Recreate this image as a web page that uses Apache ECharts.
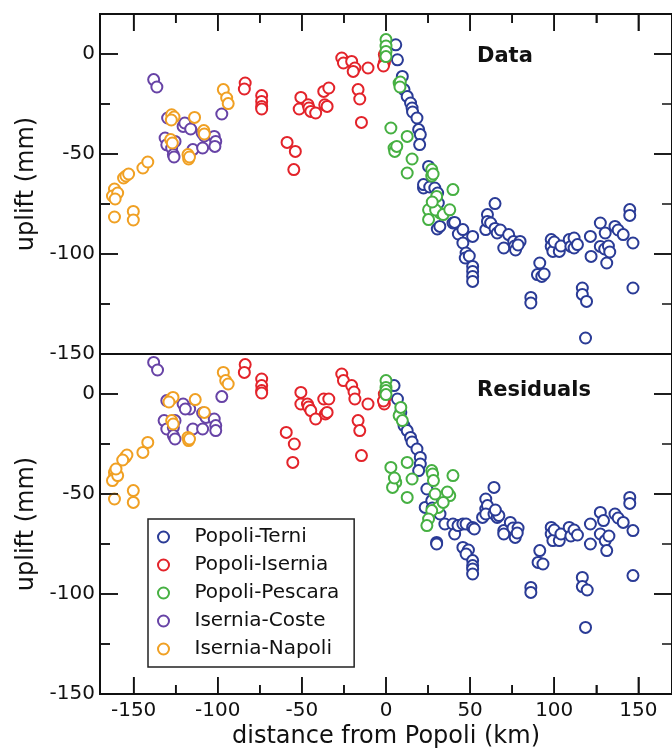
<!DOCTYPE html>
<html>
<head>
<meta charset="utf-8">
<script src="https://cdn.jsdelivr.net/npm/echarts@6/dist/echarts.min.js"></script>
<style>
  html, body { margin: 0; padding: 0; background: #fff; }
  #chart { width: 672px; height: 751px; }
</style>
</head>
<body>
<div id="chart"></div>
<script>
// tick positions
let xMajor = [-150, -100, -50, 0, 50, 100, 150];
let xMinor = [-125, -75, -25, 25, 75, 125];
let yMajor = [0, -50, -100, -150];
let yMinor = [-25, -75, -125];

let seriesNames = ["Popoli-Terni", "Popoli-Isernia", "Popoli-Pescara", "Isernia-Coste", "Isernia-Napoli"];

let terniData = [
  [5.8, 4.6], [6.8, -2.9], [9.7, -11.2], [10.7, -17.8], [12.6, -21.2], [14.6, -24.5], [15.5, -27], [15.8, -29],
  [18.4, -32], [19.4, -37.8], [20.4, -40.3], [20, -45.3], [25.3, -56.2], [22.3, -67], [22.3, -65.3], [26, -66.5],
  [29, -67], [30.7, -69.5], [31.1, -74.5], [30.5, -87.5], [32, -86.2], [39.8, -84.5], [40.8, -84.2], [43, -90],
  [45.7, -87.8], [45.7, -94.5], [51.5, -91.2], [47.6, -99.5], [47.1, -102], [49.5, -101], [51.5, -106.2],
  [51.5, -108.7], [51.5, -111.2], [51.5, -113.7], [59.3, -87.8], [60.3, -80.3], [60.3, -83.7], [64.8, -74.8],
  [62.2, -84.5], [64.8, -87.2], [66.1, -89.5], [68, -88], [70, -97], [72.9, -90.3], [75.9, -93.7], [76.5, -96],
  [77, -98], [79.7, -93.7], [78.5, -95.5], [86.1, -121.7], [86.1, -124.5], [91.4, -104.5], [90, -110.3],
  [92.6, -111.2], [94, -110], [98.2, -92.8], [98.2, -96.2], [99.2, -98.7], [100, -94], [103, -98.7], [104, -96],
  [108.9, -92.8], [109.9, -96.2], [111.8, -92], [111.8, -97], [113.8, -95.3], [116.7, -117], [116.7, -120.2],
  [119.2, -123.7], [118.6, -142], [121.5, -91.2], [121.9, -101.2], [127.4, -84.5], [130.3, -89.5], [127.4, -96.2],
  [130, -97.5], [131.2, -104.5], [132.2, -96], [133, -99], [136.1, -86.2], [138, -88], [141, -90.3],
  [144.9, -77.8], [144.9, -80.7], [146.8, -94.5], [146.8, -117]
];
let iserniaData = [
  [-83.7, -14.5], [-84.2, -17.5], [-73.9, -20.8], [-73.9, -23.7], [-73.9, -26.2], [-73.9, -27.5], [-58.8, -44.2],
  [-53.9, -48.7], [-54.8, -57.8], [-50.6, -21.7], [-51.6, -27.5], [-46.3, -25.4], [-45.8, -27], [-44.7, -28.7],
  [-41.8, -29.5], [-36.4, -25.4], [-37, -18.7], [-34, -17], [-35, -26.2], [-26.3, -2], [-25.3, -4.5],
  [-20.4, -3.7], [-18.5, -7], [-19.5, -8.7], [-10.7, -7], [-16.6, -17.8], [-15.6, -22.5], [-14.6, -34.2],
  [-1, -0.3], [-1, -4.5], [-0.5, -2.5], [-1.5, -6]
];
let pescaraData = [
  [0, 7.2], [0, 4], [0, 1.3], [0, -1.3], [7.8, -14.5], [8.5, -14], [8.3, -16.5], [2.9, -37], [4.8, -47],
  [5.2, -48.7], [6.4, -46.2], [12.6, -41.2], [15.5, -52.5], [12.6, -59.5], [27.2, -57.8], [27.2, -61], [28, -60],
  [25.3, -77.9], [25.3, -82.8], [30.1, -71.2], [32.1, -79.5], [29.5, -78], [34, -80.3], [37.9, -77.9],
  [39.8, -67.8], [27.5, -74]
];
let costeData = [
  [-138.1, -12.8], [-136.2, -16.5], [-129.8, -32], [-131.3, -42], [-130.3, -45.4], [-127.4, -47], [-126.4, -50.3],
  [-126, -51.5], [-125.4, -43.7], [-120.6, -36.2], [-119.6, -34.5], [-116.1, -37.5], [-114.8, -47.8], [-109, -47],
  [-109.3, -39.5], [-108, -41], [-102.1, -41.2], [-101.2, -43.7], [-101.7, -46.2], [-97.6, -30]
];
let napoliData = [
  [-161.4, -67.5], [-162.6, -71], [-159.5, -69.5], [-161, -72.5], [-161.4, -81.5], [-156, -62], [-154.6, -61],
  [-153, -60], [-150.2, -78.7], [-150.2, -83], [-144.5, -57], [-141.6, -54], [-127.4, -30.4], [-126, -31.5],
  [-127.6, -33], [-128, -42.8], [-127, -44.5], [-117.7, -50.3], [-117.3, -52.5], [-116.8, -51.5], [-113.8, -31.7],
  [-108.3, -38.3], [-108, -40], [-96.7, -17.8], [-94.7, -22], [-93.8, -24.8]
];

let terniResid = [
  [4.8, 4.2], [6.8, -2.5], [8.8, -9.2], [10.7, -15.8], [12.6, -18.3], [14.6, -21.7], [15.5, -24], [18.4, -27.5],
  [20.4, -31.7], [20.4, -35], [19.4, -38.3], [24.3, -47.5], [23.3, -56.7], [27.2, -53.3], [27.5, -57], [32.1, -60],
  [35, -65], [30.1, -74.2], [30.1, -75], [39.8, -65], [40.8, -70], [42.8, -65.8], [45.7, -65], [47.6, -65],
  [46.7, -77.5], [45.7, -76.7], [49, -78], [47.6, -80], [51.5, -66.7], [52.5, -67.5], [51.5, -83.3], [51.5, -85.8],
  [51.5, -87.5], [51.5, -90], [57.4, -61.7], [59.3, -57.5], [59.3, -52.5], [60.3, -55.8], [59.3, -60],
  [64.2, -46.7], [64.2, -60], [66.1, -61.7], [67.1, -60.8], [65, -58], [70, -68.3], [70, -70], [73.9, -64.2],
  [75.5, -67], [76.8, -71.7], [78.5, -67], [78, -69.5], [86.1, -96.7], [86.1, -99.2], [91.4, -78.3],
  [90.4, -84.2], [93.3, -85], [98.2, -66.7], [98.2, -70], [99.2, -73.3], [100, -68], [103, -73.3], [104, -70],
  [108.9, -66.7], [109.9, -71], [111.8, -68], [113.8, -70.5], [116.7, -91.7], [116.7, -96.3], [119.6, -98],
  [118.6, -116.7], [121.5, -65], [121.5, -75], [127.4, -59.2], [129.3, -63.3], [127.4, -70], [130.3, -73.3],
  [131.2, -78.3], [132.5, -71], [136.1, -60], [138, -62], [141, -64.2], [144.9, -51.7], [144.9, -54.7],
  [146.8, -68.3], [146.8, -90.8]
];
let iserniaResid = [
  [-83.7, 14.7], [-84.2, 10.8], [-73.9, 7.5], [-73.9, 4.2], [-73.9, 1.7], [-73.9, 0.5], [-59.3, -19.2],
  [-54.5, -25], [-55.4, -34.2], [-50.6, 0.8], [-50.6, -5], [-46.7, -5], [-46, -6.5], [-44.7, -8.3], [-41.8, -12.5],
  [-36, -10], [-37, -2.5], [-34, -2.5], [-35, -9.2], [-26.3, 10], [-25.3, 6.7], [-20.4, 4.2], [-19, 1],
  [-18.5, -2.5], [-10.7, -5], [-16.6, -13.3], [-15.6, -18.3], [-14.6, -30.8], [-1, 0], [-1, -5], [-0.5, -2],
  [-1.5, -3.5]
];
let pescaraResid = [
  [0, 6.7], [0, 3.3], [0, 1.7], [0, -0.3], [7.8, -10.8], [9.7, -13.3], [8.8, -6.7], [2.9, -36.7], [12.6, -34.2],
  [5.8, -44.2], [3.9, -46.7], [5, -42], [15.5, -42.5], [12.6, -51.7], [27.2, -38.3], [27.7, -40], [28.2, -43.3],
  [39.8, -40.8], [29.2, -50], [37.9, -50.8], [36.5, -49], [31.1, -56.7], [27.2, -58.3], [25.3, -62.5],
  [24.3, -65.8], [34, -54.2]
];
let costeResid = [
  [-138.1, 15.8], [-135.8, 12], [-130.3, -3.3], [-131.9, -13.3], [-130.3, -17.5], [-126.4, -16.7],
  [-126.4, -20.8], [-125.4, -22.5], [-125.4, -13.3], [-120.6, -5], [-116.7, -7.5], [-119.3, -7.5],
  [-114.8, -17.5], [-109, -17.5], [-109, -9.5], [-107, -11.7], [-102.1, -12.5], [-101.2, -15.8],
  [-101.2, -18.3], [-97.6, -1.3]
];
let napoliResid = [
  [-161.4, -39.2], [-161.4, -41.7], [-162.6, -43.3], [-159.5, -40.8], [-160.5, -37.5], [-161.4, -52.5],
  [-155, -31.7], [-154, -30.5], [-156.5, -33], [-150.2, -48.3], [-150.2, -54.2], [-144.5, -29.2],
  [-141.6, -24.2], [-127.8, -2.5], [-126.6, -1.7], [-129, -4], [-127.4, -13.3], [-126.5, -15], [-117.7, -21.7],
  [-117.3, -23.3], [-116.8, -22.5], [-113.4, -2.8], [-108, -9.2], [-96.7, 10.8], [-95.3, 6.7], [-93.8, 5]
];

let colors = ["#2a3b96", "#e3232a", "#46b042", "#6743a6", "#f0a023"];
let dataSets = [terniData, iserniaData, pescaraData, costeData, napoliData];
let residSets = [terniResid, iserniaResid, pescaraResid, costeResid, napoliResid];

const font = "DejaVu Sans";
const ink = "#111";
const X_MIN = -170, X_MAX = 170, Y_MIN = -150, Y_MAX = 20;

let chart = echarts.init(document.getElementById("chart"));

// one axis per tick set; each draws its own frame line
function axis(gridIndex, position, min, max, tickValues, tickLen, labelValues) {
  return {
    type: "value", gridIndex: gridIndex, position: position, min: min, max: max,
    axisLine: { show: true, onZero: false, lineStyle: { color: ink, width: 2 } },
    splitLine: { show: false },
    axisTick: tickValues
      ? { show: true, inside: true, length: tickLen, customValues: tickValues, lineStyle: { color: ink, width: 1.5 } }
      : { show: false },
    axisLabel: labelValues
      ? { show: true, customValues: labelValues, color: ink, fontSize: 20, fontFamily: font, margin: position === "left" ? 5 : 7 }
      : { show: false },
  };
}

let xBottom = axis(1, "bottom", X_MIN, X_MAX, xMajor, 17, xMajor);
xBottom.name = "distance from Popoli (km)";
xBottom.nameLocation = "middle";
xBottom.nameGap = 31;
xBottom.nameTextStyle = { color: ink, fontSize: 24, fontFamily: font };

let xAxes = [
  axis(0, "top", X_MIN, X_MAX, xMajor, 17, null),      // 0: top panel
  axis(0, "top", X_MIN, X_MAX, xMinor, 9, null),
  axis(0, "bottom", X_MIN, X_MAX, null, 0, null),      // divider line
  xBottom,                                             // 3: bottom panel
  axis(1, "bottom", X_MIN, X_MAX, xMinor, 9, null),
];

function yAxes(gridIndex) {
  let left = axis(gridIndex, "left", Y_MIN, Y_MAX, yMajor, 18, yMajor);
  left.name = "uplift (mm)";
  left.nameLocation = "middle";
  left.nameGap = 56;
  left.nameTextStyle = { color: ink, fontSize: 24, fontFamily: font };
  return [
    left,
    axis(gridIndex, "left", Y_MIN, Y_MAX, yMinor, 10, null),
    axis(gridIndex, "right", Y_MIN, Y_MAX, yMajor, 18, null),
  ];
}

function scatter(name, color, points, panel) {
  return {
    name: name, type: "scatter", data: points,
    xAxisIndex: panel * 3, yAxisIndex: panel * 3,
    symbol: "emptyCircle", symbolSize: 11,
    itemStyle: { color: color, borderColor: color, borderWidth: 1.7, opacity: 1 },
  };
}

// inward tick marks along the panel frame, placed through the grid's own coordinate system
function tickMarks(panel) {
  let xEdge = panel === 0 ? Y_MAX : Y_MIN;
  let xDir = panel === 0 ? 1 : -1;
  return {
    type: "custom", silent: true, clip: false, z: 5,
    xAxisIndex: panel * 3, yAxisIndex: panel * 3,
    data: [[0, 0]],
    renderItem: function (params, api) {
      let children = [];
      let stroke = { stroke: ink, lineWidth: 1.5 };
      function vTick(v, len) {
        let p = api.coord([v, xEdge]);
        children.push({ type: "line", shape: { x1: p[0], y1: p[1], x2: p[0], y2: p[1] + xDir * len }, style: stroke });
      }
      function hTick(v, len) {
        let l = api.coord([X_MIN, v]);
        let r = api.coord([X_MAX, v]);
        children.push({ type: "line", shape: { x1: l[0], y1: l[1], x2: l[0] + len, y2: l[1] }, style: stroke });
        children.push({ type: "line", shape: { x1: r[0], y1: r[1], x2: r[0] - len, y2: r[1] }, style: stroke });
      }
      xMajor.forEach(function (v) { vTick(v, 17); });
      xMinor.forEach(function (v) { vTick(v, 9); });
      yMajor.forEach(function (v) { hTick(v, 18); });
      yMinor.forEach(function (v) { hTick(v, 10); });
      return { type: "group", children: children };
    },
  };
}

let series = [];
seriesNames.forEach(function (name, i) {
  series.push(scatter(name, colors[i], dataSets[i], 0));
});
seriesNames.forEach(function (name, i) {
  series.push(scatter(name, colors[i], residSets[i], 1));
});
series.push(tickMarks(0));
series.push(tickMarks(1));

chart.setOption({
  animation: false,
  color: colors,
  grid: [
    { left: 100, top: 14, width: 583, height: 340 },
    { left: 100, top: 354, width: 583, height: 340 },
  ],
  xAxis: xAxes,
  yAxis: yAxes(0).concat(yAxes(1)),
  legend: {
    data: seriesNames,
    orient: "vertical",
    left: 148,
    top: 519,
    padding: [8, 15, 8, 9],
    itemGap: 8,
    itemWidth: 22,
    itemHeight: 11,
    icon: "emptyCircle",
    itemStyle: { borderWidth: 1.5 },
    borderColor: "#222",
    borderWidth: 1.5,
    backgroundColor: "#fff",
    textStyle: { color: ink, fontSize: 20, fontFamily: font, lineHeight: 20, padding: [0, 0, 0, 15] },
  },
  graphic: [
    { type: "text", left: 477, top: 46, style: { text: "Data", fill: ink, font: 'bold 21px "DejaVu Sans"' } },
    { type: "text", left: 477, top: 380, style: { text: "Residuals", fill: ink, font: 'bold 21px "DejaVu Sans"' } },
  ],
  series: series,
});
</script>
</body>
</html>
